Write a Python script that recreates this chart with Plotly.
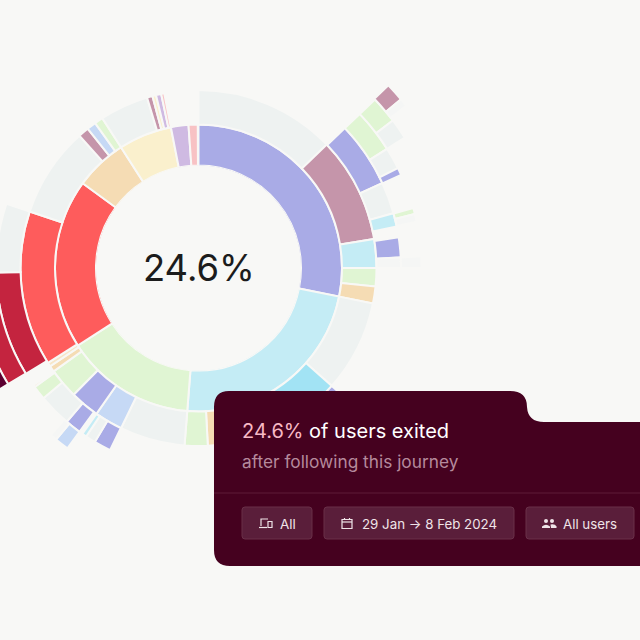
import numpy as np
import plotly.graph_objects as go

# ---- data: sweep of every segment (degrees clockwise from 12 o'clock), ring by ring ----
ring1_sweep = [101.5, 83.0, 52.8, 68.9, 21.1, 21.6, 7.1, 3.7]
ring1_kind = ["purple", "sky", "green", "red", "tan", "yellow", "lilac", "pink"]

ring2_sweep = [46.1, 34.5, 9.4, 6.0, 5.5, 30.0, 33.5, 12.0, 7.5, 21.3, 9.2, 9.6, 9.9, 2.0, 1.3,
               50.7, 29.5, 3.5, 3.0, 2.8, 15.9, 1.8, 1.2, 1.7, 1.0]
ring2_kind = ["gray", "mauve", "sky", "green", "tan", "gray", "cyan", "tan", "green", "gray", "blue",
              "purple", "green", "tan", "paletan", "red", "gray", "mauve", "blue", "green", "gray",
              "mauve", "yellow", "lilac", "pink"]

ring3_sweep = [46.3, 18.9, 9.1, 3.9, 3.1, 5.7, 3.0, 41.5, 5.5, 68.9, 4.9, 2.9, 1.3, 1.0, 4.6, 9.4,
               4.0, 0.6, 3.9, 30.2, 19.8]
ring3_kind = [None, "purple", "gray", "sky", None, "purple", "faint", None, "purple", None, "purple",
              "gray", "sky", None, "purple", "gray", "green", "paletan", None, "crimson", "gray"]

ring4_sweep = [46.3, 11.4, 5.7, 1.9, 9.1, 1.6, 2.0, 9.0, 3.0, 126.0, 3.7, 1.8, 17.1, 25.4]
ring4_kind = [None, "green", "gray", "purple", None, "green", "faint", None, "faint", None, "blue",
              "faint", None, "crimson"]

ring5_sweep = [46.3, 6.5, 4.9, 180.9, 21.0]
ring5_kind = [None, "green", "gray", None, "maroon"]

ring6_sweep = [46.1, 4.1, 1.8]
ring6_kind = [None, "mauve", "faint"]

center_label = "24.6%"
filter_labels = ["All", "29 Jan → 8 Feb 2024", "All users"]

# ---- style / layout ----
BG = "#f8f8f6"
CARD = "#45011f"
PALETTE = {
    "purple": "#a9abe6", "sky": "#c4ecf5", "green": "#e0f5d3", "red": "#fe5c5c", "tan": "#f5dcb4",
    "paletan": "#f7e6c8", "yellow": "#faf0cd", "lilac": "#cfbae2", "pink": "#f8c2c4", "mauve": "#c595aa",
    "gray": "#eef2f1", "faint": "#f5f6f5", "cyan": "#a2e3f4", "blue": "#c6d9f5", "crimson": "#c4243f",
    "maroon": "#5c0030",
}
RING_EDGES = [102.5, 143.5, 178, 202.5, 223, 244, 263.5]
OUTER = 270
OX, OY, W, H = 80, 10, 720, 650   # page offset of the drawing and its full size


def px(x):
    return (x + OX) / W


def py(y):
    return 1 - (y + OY) / H


def path(cmds):
    out = []
    for c in cmds:
        if isinstance(c, str):
            out.append(c)
        else:
            out.append(f"{px(c[0]):.5f},{py(c[1]):.5f}")
    return " ".join(out)


rings = [(ring1_sweep, ring1_kind), (ring2_sweep, ring2_kind), (ring3_sweep, ring3_kind),
         (ring4_sweep, ring4_kind), (ring5_sweep, ring5_kind), (ring6_sweep, ring6_kind)]

thetas, widths, bases, thick, colors = [], [], [], [], []
for i, (sweep, kind) in enumerate(rings):
    ends = np.cumsum(sweep)
    starts = ends - np.array(sweep)
    for s, e, k in zip(starts, ends, kind):
        if k is None:
            continue
        thetas.append((s + e) / 2)
        widths.append(e - s)
        bases.append(RING_EDGES[i])
        thick.append(RING_EDGES[i + 1] - RING_EDGES[i])
        colors.append(PALETTE[k])

fig = go.Figure(go.Barpolar(
    theta=thetas, width=widths, base=bases, r=thick,
    marker=dict(color=colors, line=dict(color=BG, width=2)),
    hoverinfo="skip",
))

R = OUTER
cx, cy = 198.5 + OX, 268 + OY
fig.update_layout(
    width=W, height=H, autosize=False,
    margin=dict(l=0, r=0, t=0, b=0),
    paper_bgcolor=BG, plot_bgcolor=BG, showlegend=False,
    polar=dict(
        domain=dict(x=[(cx - R) / W, (cx + R) / W], y=[1 - (cy + R) / H, 1 - (cy - R) / H]),
        hole=RING_EDGES[0] / OUTER, bgcolor="rgba(0,0,0,0)", barmode="overlay",
        radialaxis=dict(visible=False, range=[RING_EDGES[0], OUTER]),
        angularaxis=dict(visible=False, rotation=90, direction="clockwise"),
    ),
)

shapes = []
# card with notched top-right corner
shapes.append(dict(type="path", xref="paper", yref="paper", line=dict(width=0), fillcolor=CARD, path=path([
    "M", (229, 391), "L", (510, 391), "Q", (527, 391), (527, 407), "Q", (528, 422), (544, 422),
    "L", (640, 422), "L", (640, 566), "L", (230, 566), "Q", (214, 566), (214, 550),
    "L", (214, 407), "Q", (214, 391), (229, 391), "Z"])))
# divider
shapes.append(dict(type="line", xref="paper", yref="paper", x0=px(214), x1=px(640), y0=py(493), y1=py(493),
                   line=dict(color="#5e1c39", width=1)))


def button(x0, x1, y0=507, y1=539, r=3):
    return dict(type="path", xref="paper", yref="paper", fillcolor="#5a1e3a", line=dict(color="#6a3049", width=1),
                path=path(["M", (x0 + r, y0), "L", (x1 - r, y0), "Q", (x1, y0), (x1, y0 + r), "L", (x1, y1 - r),
                           "Q", (x1, y1), (x1 - r, y1), "L", (x0 + r, y1), "Q", (x0, y1), (x0, y1 - r),
                           "L", (x0, y0 + r), "Q", (x0, y0), (x0 + r, y0), "Z"]))


shapes += [button(242, 312), button(324, 514), button(526, 634)]

ICON = "#efe4e8"


def stroke(cmds, width=1.2):
    return dict(type="path", xref="paper", yref="paper", line=dict(color=ICON, width=width), path=path(cmds))


def solid(cmds):
    return dict(type="path", xref="paper", yref="paper", line=dict(width=0), fillcolor=ICON, path=path(cmds))


# device icon
shapes.append(stroke(["M", (261, 526), "L", (261, 519), "L", (268, 519)]))
shapes.append(stroke(["M", (259, 527.5), "L", (267, 527.5)]))
shapes.append(stroke(["M", (268, 521.5), "L", (272, 521.5), "L", (272, 527.5), "L", (268, 527.5), "Z"]))
# calendar icon
shapes.append(stroke(["M", (342, 519.5), "L", (352, 519.5), "L", (352, 528.5), "L", (342, 528.5), "Z"]))
shapes.append(stroke(["M", (342, 522), "L", (352, 522)]))
shapes.append(stroke(["M", (344.5, 518), "L", (344.5, 520)]))
shapes.append(stroke(["M", (349.5, 518), "L", (349.5, 520)]))
# people icon
for hx, hy, hr in [(546, 521, 2), (552, 521, 2)]:
    shapes.append(dict(type="circle", xref="paper", yref="paper", fillcolor=ICON, line=dict(width=0),
                       x0=px(hx - hr), x1=px(hx + hr), y0=py(hy + hr), y1=py(hy - hr)))
shapes.append(solid(["M", (542, 528), "L", (542, 526.5), "Q", (546, 523), (550, 526.5), "L", (550, 528), "Z"]))
shapes.append(solid(["M", (550.5, 524.5), "Q", (555, 523.5), (556.5, 526.5), "L", (556.5, 528), "L", (551, 528), "Z"]))

FONT = "Inter"


def text(x, y, s, size, color, anchor="left", weight=None):
    return dict(xref="paper", yref="paper", x=px(x), y=py(y), text=s, showarrow=False,
                xanchor=anchor, yanchor="middle", align=anchor,
                font=dict(family=FONT, size=size, color=color, weight=weight))


annotations = [
    text(198.5, 268, center_label, 36.4, "#1c1c1c", "center"),
    text(240, 431, '<span style="color:#f7b9c5">24.6%</span> of users exited', 20, "#ffffff", weight=400),
    text(240, 461, "after following this journey", 17.3, "#b58a9c"),
    text(278, 523.5, filter_labels[0], 13.5, "#efe4e8"),
    text(360, 523.5, filter_labels[1], 13.3, "#efe4e8"),
    text(561, 523.5, filter_labels[2], 13.3, "#efe4e8"),
]

fig.update_layout(shapes=shapes, annotations=annotations)

post = f"""
var gd = document.getElementById('{{plot_id}}');
document.documentElement.style.overflow = 'hidden';
document.documentElement.style.background = '{BG}';
document.body.style.margin = '0';
gd.style.position = 'fixed';
gd.style.left = '{-OX}px';
gd.style.top = '{-OY}px';
"""
fig.write_html("out.html", config=dict(displayModeBar=False, staticPlot=True),
               default_width=f"{W}px", default_height=f"{H}px", post_script=post)
